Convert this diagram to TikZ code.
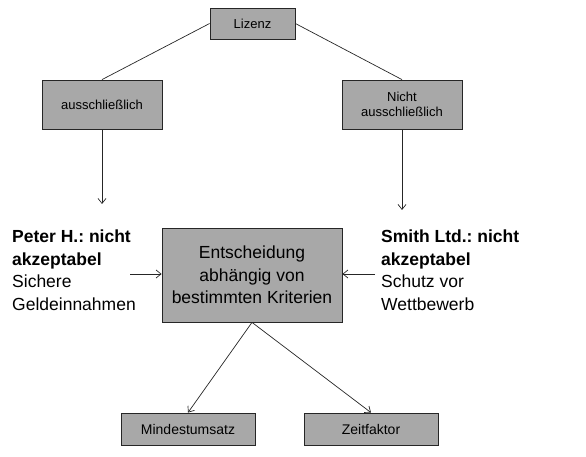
\documentclass[tikz,border=0pt]{standalone}
\usepackage{fontspec}
\setmainfont{Liberation Sans}
\usetikzlibrary{arrows.meta}
\definecolor{boxgray}{RGB}{168,168,168}
\tikzset{
  smallbox/.style={draw=black!85, fill=boxgray, line width=0.8pt, minimum height=31pt, inner sep=2pt, font=\fontsize{13}{15}\selectfont},
  bigbox/.style={draw=black!85, fill=boxgray, line width=0.8pt, minimum width=180pt, minimum height=94pt, align=center, font=\fontsize{17.5}{22.5}\selectfont},
  sidetext/.style={align=left, inner sep=0pt, font=\fontsize{17.5}{22.5}\selectfont},
  conn/.style={line width=0.7pt, black!85},
  arr/.style={conn, -{Straight Barb[length=5pt,width=8pt]}}
}
\frenchspacing
\begin{document}
\begin{tikzpicture}[x=1pt, y=-1pt]
    \useasboundingbox (0,0) rectangle (586,457);

    % Top level
    \node[smallbox, minimum width=85pt] (lizenz) at (252.5,23.5) {Lizenz};

    % Second level
    \node[smallbox, minimum width=120pt, minimum height=49pt] (auss) at (102,104.5) {ausschließlich};
    \node[smallbox, minimum width=120pt, minimum height=49pt, align=center] (nauss) at (402,104.5) {Nicht\\ausschließlich};

    % Decision box
    \node[bigbox] (entsch) at (252,275) {Entscheidung\\abhängig von\\bestimmten Kriterien};

    % Side texts
    \node[sidetext, anchor=north west] (peter) at (12,230) {\textbf{Peter H.: nicht}\\\textbf{akzeptabel}\\Sichere\\Geldeinnahmen};
    \node[sidetext, anchor=north west] (smith) at (381,230) {\textbf{Smith Ltd.: nicht}\\\textbf{akzeptabel}\\Schutz vor\\Wettbewerb};

    % Criteria
    \node[smallbox, minimum width=134pt, minimum height=32pt, font=\fontsize{14}{16}\selectfont] (mindest) at (188,429) {Mindestumsatz};
    \node[smallbox, minimum width=134pt, minimum height=32pt, font=\fontsize{14}{16}\selectfont] (zeit) at (371,429) {Zeitfaktor};

    % Free arrow ends
    \coordinate (pend) at (102,204);
    \coordinate (send) at (402,210);
    \coordinate (pstart) at (130,274);
    \coordinate (sstart) at (375,274);

    % Connectors
    \draw[conn] (lizenz.west) -- (auss.north);
    \draw[conn] (lizenz.east) -- (nauss.north);
    \draw[arr] (auss.south) -- (pend);
    \draw[arr] (nauss.south) -- (send);
    \draw[arr] (pstart) -- (entsch.west |- pstart);
    \draw[arr] (sstart) -- (entsch.east |- sstart);
    \draw[arr] (entsch.south) -- (mindest.north);
    \draw[arr] (entsch.south) -- (zeit.north);
\end{tikzpicture}
\end{document}
